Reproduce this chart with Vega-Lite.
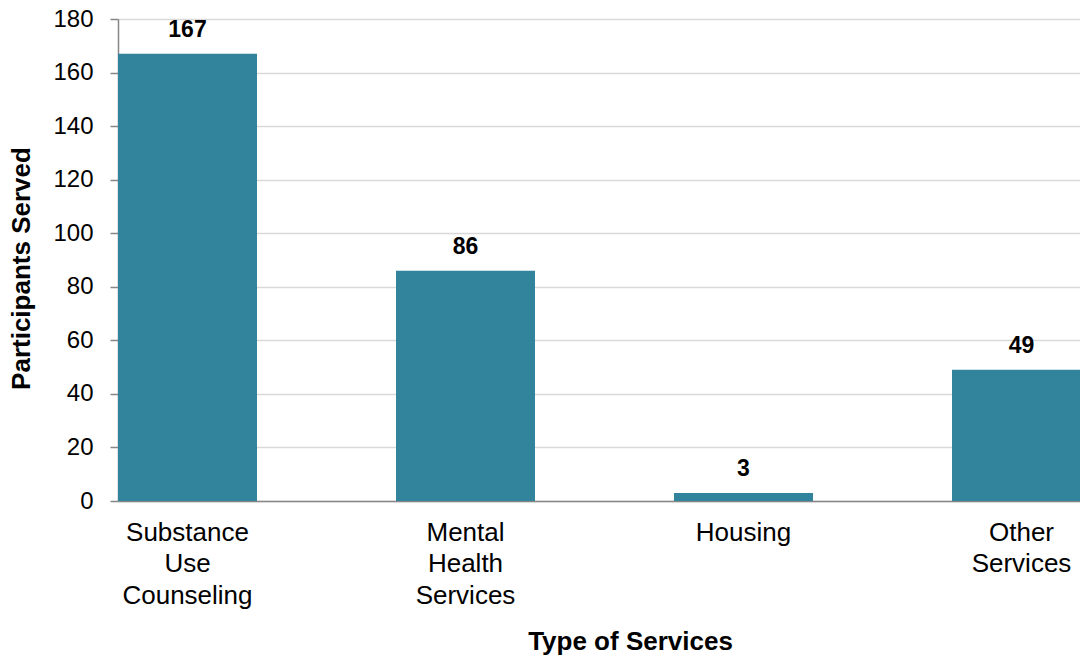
{
  "$schema": "https://vega.github.io/schema/vega-lite/v6.json",
  "width": 962,
  "height": 482,
  "autosize": {"type": "none"},
  "padding": {"left": 118, "top": 19, "right": 0, "bottom": 157},
  "background": "white",
  "config": {
    "view": {"stroke": null},
    "font": "Liberation Sans"
  },
  "data": {
    "values": [
      {"service": "Substance Use Counseling", "participants": 167},
      {"service": "Mental Health Services", "participants": 86},
      {"service": "Housing", "participants": 3},
      {"service": "Other Services", "participants": 49}
    ]
  },
  "encoding": {
    "x": {
      "field": "service",
      "type": "nominal",
      "sort": null,
      "scale": {"range": [0, 973], "paddingInner": 0.5, "paddingOuter": 0, "align": 0},
      "axis": {
        "title": "Type of Services",
        "titleFont": "Liberation Sans",
        "titleFontSize": 26,
        "titleFontWeight": "bold",
        "titleColor": "black",
        "titleX": 512,
        "titleY": 148,
        "titleBaseline": "alphabetic",
        "labelExpr": "split(datum.label, ' ')",
        "labelAngle": 0,
        "labelFontSize": 26,
        "labelColor": "black",
        "labelLineHeight": 31.5,
        "labelPadding": 18,
        "labelBaseline": "top",
        "ticks": false,
        "domainColor": "#868686",
        "domainWidth": 1.5,
        "grid": false
      }
    },
    "y": {
      "field": "participants",
      "type": "quantitative",
      "scale": {"domain": [0, 180], "nice": false},
      "axis": {
        "title": "Participants Served",
        "titleFont": "Liberation Sans",
        "titleFontSize": 26,
        "titleFontWeight": "bold",
        "titleColor": "black",
        "titleX": -89,
        "titleY": 249,
        "titleAngle": -90,
        "titleBaseline": "alphabetic",
        "titleAlign": "center",
        "values": [0, 20, 40, 60, 80, 100, 120, 140, 160, 180],
        "labelFontSize": 24,
        "labelColor": "black",
        "labelPadding": 17,
        "tickSize": 8,
        "tickColor": "#868686",
        "tickWidth": 1.5,
        "domainColor": "#868686",
        "domainWidth": 1.5,
        "gridColor": "#d9d9d9",
        "gridWidth": 1.5
      }
    }
  },
  "layer": [
    {"mark": {"type": "bar", "color": "#31849b"}},
    {
      "mark": {"type": "text", "fontSize": 23, "fontWeight": "bold", "color": "black", "baseline": "alphabetic", "dy": -17},
      "encoding": {"text": {"field": "participants", "type": "quantitative"}}
    }
  ]
}
